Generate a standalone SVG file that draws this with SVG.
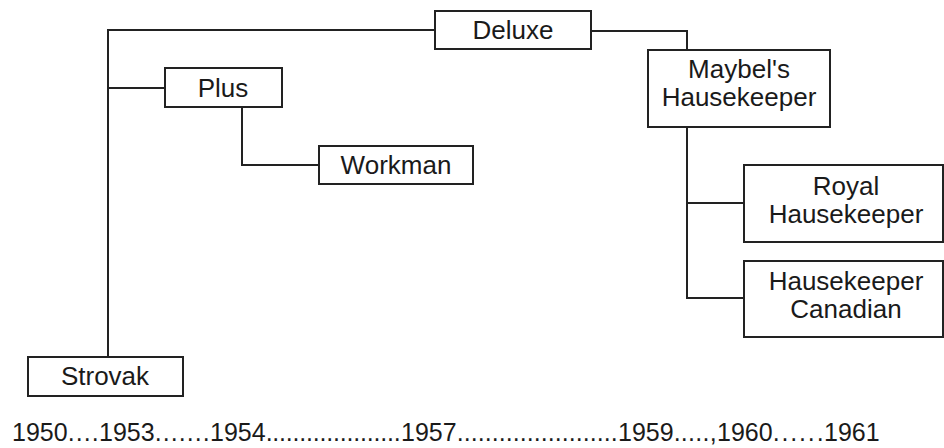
<svg xmlns="http://www.w3.org/2000/svg" width="944" height="448" viewBox="0 0 944 448">
  <style>
    .box { fill: #fff; stroke: #222; stroke-width: 2; }
    .lbl { font-family: "Liberation Sans", Arial, sans-serif; font-size: 26px; fill: #1a1a1a; text-anchor: middle; }
    .wire { fill: none; stroke: #222; stroke-width: 2; }
    .years { font-family: "Liberation Sans", Arial, sans-serif; font-size: 25px; fill: #1a1a1a; }
  </style>
  <rect width="944" height="448" fill="#fff"/>

  <!-- connectors -->
  <g id="connectors" class="wire">
    <!-- Strovak trunk up to Deluxe -->
    <polyline points="108,357 108,30 435,30"/>
    <!-- trunk to Plus -->
    <line x1="108" y1="88" x2="165" y2="88"/>
    <!-- Plus to Workman -->
    <polyline points="242,107 242,165 319,165"/>
    <!-- Deluxe to Maybel's -->
    <polyline points="591,31 687,31 687,50"/>
    <!-- Maybel's to Royal and Canadian -->
    <polyline points="687,127 687,298 744,298"/>
    <line x1="687" y1="203" x2="744" y2="203"/>
  </g>

  <g id="deluxe">
    <rect class="box" x="435" y="11" width="156" height="38"/>
    <text class="lbl" x="513" y="39">Deluxe</text>
  </g>
  <g id="plus">
    <rect class="box" x="165" y="68" width="117" height="39"/>
    <text class="lbl" x="223" y="97">Plus</text>
  </g>
  <g id="workman">
    <rect class="box" x="319" y="146" width="154" height="38"/>
    <text class="lbl" x="396" y="174">Workman</text>
  </g>
  <g id="maybels">
    <rect class="box" x="648" y="50" width="182" height="77"/>
    <text class="lbl" x="739" y="78">Maybel's</text>
    <text class="lbl" x="739" y="106">Hausekeeper</text>
  </g>
  <g id="royal">
    <rect class="box" x="744" y="165" width="199" height="77"/>
    <text class="lbl" x="846" y="195">Royal</text>
    <text class="lbl" x="846" y="223">Hausekeeper</text>
  </g>
  <g id="canadian">
    <rect class="box" x="744" y="261" width="199" height="76"/>
    <text class="lbl" x="846" y="290">Hausekeeper</text>
    <text class="lbl" x="846" y="318">Canadian</text>
  </g>
  <g id="strovak">
    <rect class="box" x="28" y="357" width="155" height="39"/>
    <text class="lbl" x="105" y="385">Strovak</text>
  </g>

  <!-- timeline: dotted runs stretched to fill the gap between years -->
  <text class="years" y="441"><tspan x="12">1950</tspan><tspan textLength="31" lengthAdjust="spacing">....</tspan><tspan x="99">1953</tspan><tspan textLength="55" lengthAdjust="spacing">.......</tspan><tspan x="210">1954</tspan><tspan textLength="135" lengthAdjust="spacing">....................</tspan><tspan x="401">1957</tspan><tspan textLength="161" lengthAdjust="spacing">.......................</tspan><tspan x="618">1959</tspan><tspan textLength="43" lengthAdjust="spacing">.....,</tspan><tspan x="717">1960</tspan><tspan textLength="51" lengthAdjust="spacing">......</tspan><tspan x="824">1961</tspan></text>
</svg>
